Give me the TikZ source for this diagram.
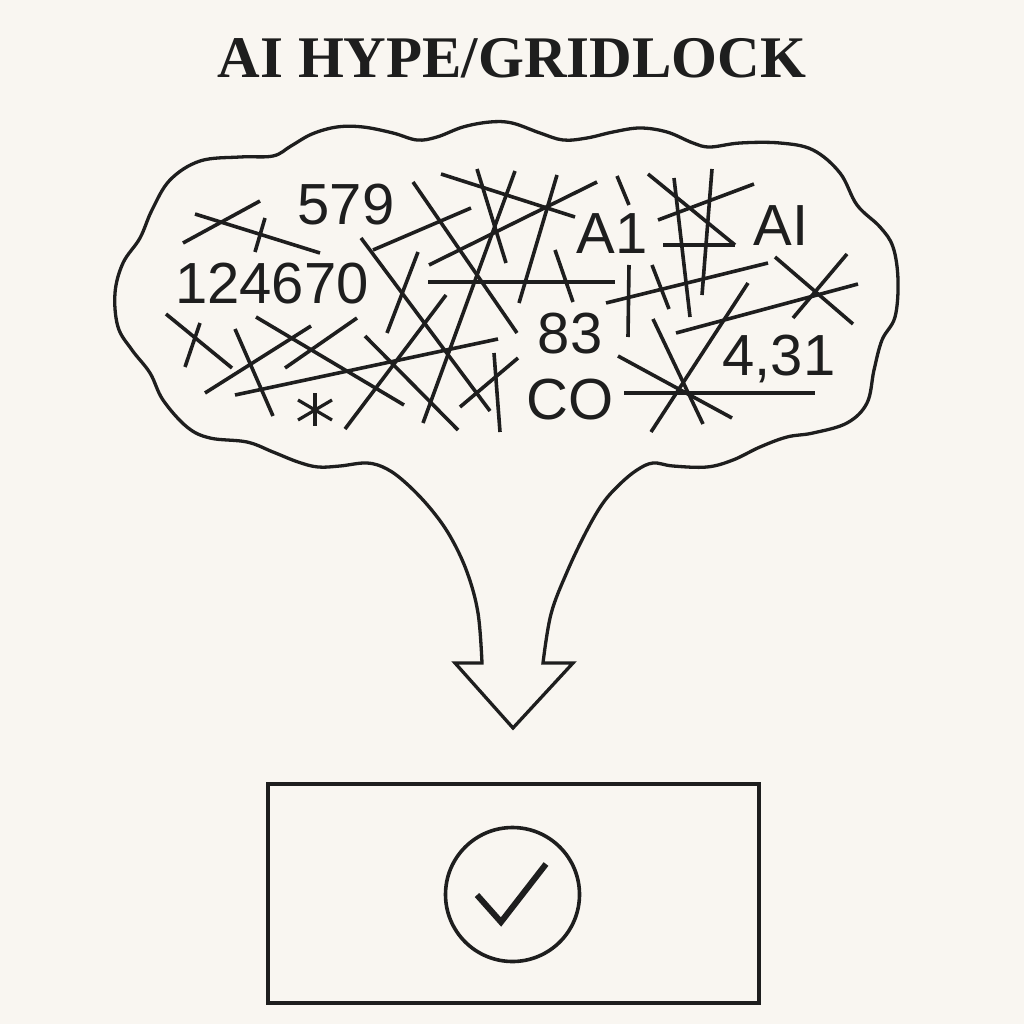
\documentclass[tikz,border=0pt]{standalone}
\usepackage{fontspec}
\setmainfont{Liberation Serif}
\newfontfamily\digitfont{Liberation Sans}
\definecolor{paper}{RGB}{249,246,241}
\definecolor{ink}{RGB}{30,30,30}
\begin{document}
\begin{tikzpicture}[x=1pt,y=-1pt,
  scr/.style={draw=ink,line width=3.6pt,line cap=butt},
  outline/.style={draw=ink,line width=3.3pt,line join=miter},
  lbl/.style={anchor=base,inner sep=0pt,text=ink,font=\digitfont\fontsize{58}{60}\selectfont},
  ttl/.style={anchor=base,inner sep=0pt,text=ink,font=\bfseries\fontsize{59}{62}\selectfont}]
\fill[paper] (0,0) rectangle (1024,1024);
\useasboundingbox (0,0) rectangle (1024,1024);

% title
\node[ttl] (title) at (512,78) {AI HYPE/GRIDLOCK};

% cloud outline with arrow
\draw[outline] plot[smooth,tension=0.6] coordinates {
 (482,663) (478,613) (467,572) (450,536) (430,508) (407,484) (387,469)
 (367,463) (340,466) (318,467) (298,462) (273,452) (247,442) (210,438)
 (187,427) (163,400) (150,373) (132,350) (118,327) (115,293) (123,263)
 (140,238) (152,210) (170,180) (200,161) (240,157) (273,156) (291,146)
 (312,134) (337,127) (363,127) (393,133) (417,140) (437,137) (463,127)
 (490,122) (512,123) (540,133) (563,140) (587,138) (613,132) (640,128)
 (667,132) (693,143) (710,147) (740,143) (780,143) (813,150) (840,173)
 (857,205) (880,227) (893,247) (898,280) (895,317) (882,340) (874,370)
 (867,403) (847,423) (813,433) (787,437) (760,447) (733,460) (707,467)
 (673,466) (653,463) (637,470) (620,484) (603,503) (586,532) (567,572)
 (551,614) (543,663)}
 -- (573,663) -- (513,728) -- (455,663) -- cycle;

% labels
\node[lbl] (n579) at (346,225) {579};
\node[lbl] (n124670) at (272,303) {124670};
\node[lbl] (nA1) at (612,253) {A1};
\node[lbl] (nAI) at (781,245) {AI};
\node[lbl] (n83) at (570,353) {83};
\node[lbl] (nCO) at (570,419) {CO};
\node[lbl] (n431) at (779,375) {4,31};

% asterisk
\draw[scr,line width=3.2pt] (315,393) -- (315,426);
\draw[scr,line width=3.2pt] (298,400) -- (332,420);
\draw[scr,line width=3.2pt] (298,420) -- (332,400);

% scribble lines
\draw[scr] (183,243) -- (260,201);
\draw[scr] (195,214) -- (320,253);
\draw[scr] (265,218) -- (255,252);
\draw[scr] (166,314) -- (232,368);
\draw[scr] (200,323) -- (185,367);
\draw[scr] (235,329) -- (273,416);
\draw[scr] (205,393) -- (311,326);
\draw[scr] (256,317) -- (404,405);
\draw[scr] (285,368) -- (357,318);
\draw[scr] (235,395) -- (498,339);
\draw[scr] (365,336) -- (458,430);
\draw[scr] (345,429) -- (446,295);
\draw[scr] (361,238) -- (490,411);
\draw[scr] (373,250) -- (471,208);
\draw[scr] (387,333) -- (418,252);
\draw[scr] (413,182) -- (517,333);
\draw[scr] (441,174) -- (575,217);
\draw[scr] (477,169) -- (506,263);
\draw[scr] (515,171) -- (423,423);
\draw[scr] (429,265) -- (597,182);
\draw[scr] (428,282) -- (615,282);
\draw[scr] (557,175) -- (519,303);
\draw[scr] (555,250) -- (573,302);
\draw[scr] (494,353) -- (500,432);
\draw[scr] (460,407) -- (518,358);
\draw[scr] (617,176) -- (629,205);
\draw[scr] (648,174) -- (735,245);
\draw[scr] (663,245) -- (735,245);
\draw[scr] (674,178) -- (690,317);
\draw[scr] (712,169) -- (702,295);
\draw[scr] (658,220) -- (754,184);
\draw[scr] (606,303) -- (768,263);
\draw[scr] (629,265) -- (628,337);
\draw[scr] (652,265) -- (669,309);
\draw[scr] (775,257) -- (853,324);
\draw[scr] (847,254) -- (793,318);
\draw[scr] (676,333) -- (858,284);
\draw[scr] (748,283) -- (651,432);
\draw[scr] (653,319) -- (703,424);
\draw[scr] (618,356) -- (732,418);
\draw[scr] (624,393) -- (815,393);

% result box
\node[draw=ink,line width=4pt,minimum width=491pt,minimum height=219pt,inner sep=0pt] (box) at (513,893) {};
\node[draw=ink,line width=3.6pt,circle,minimum size=134pt,inner sep=0pt] (okcircle) at (512.5,894.5) {};
\draw[ink,line width=6pt,line join=miter] (477,895) -- (501,922) -- (546,864);
\end{tikzpicture}
\end{document}
